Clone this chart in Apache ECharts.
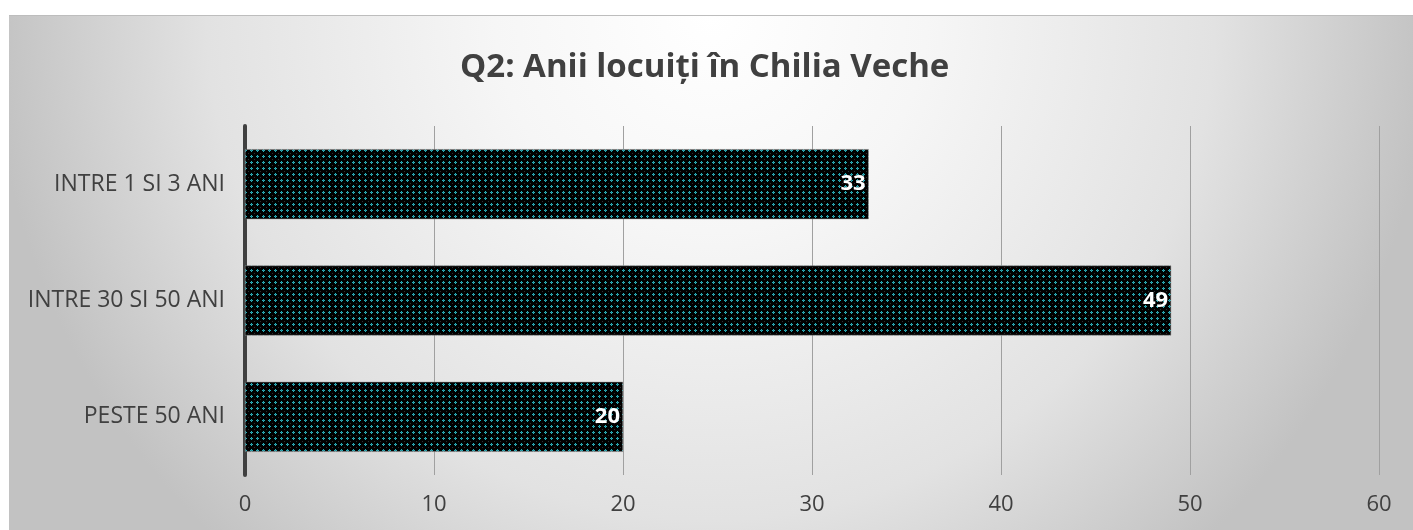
<!DOCTYPE html>
<html>
<head>
<meta charset="utf-8">
<script src="https://cdn.jsdelivr.net/npm/echarts@6/dist/echarts.min.js"></script>
<style>
  html, body { margin: 0; padding: 0; background: #fff; }
  #chart {
    position: absolute;
    left: 9px;
    top: 15px;
    width: 1404px;
    height: 515px;
    border-top: 1px solid #bdbdbd;
    box-sizing: border-box;
    background: radial-gradient(ellipse 720px 720px at 50% 0%, #ffffff 0%, #f6f6f6 30%, #e2e2e2 70%, #c2c2c2 100%);
  }
</style>
</head>
<body>
<div id="chart"></div>
<script>
const categories = ['INTRE 1 SI 3 ANI', 'INTRE 30 SI 50 ANI', 'PESTE 50 ANI']
const values = [33, 49, 20]
const xTicks = [0, 10, 20, 30, 40, 50, 60]

const textColor = '#404040'
const fontFamily = '"Open Sans", "DejaVu Sans", sans-serif'

// black fill with small cyan dots, like the original pattern fill
function makePattern () {
  const c = document.createElement('canvas')
  c.width = 6
  c.height = 6
  const ctx = c.getContext('2d')
  ctx.fillStyle = '#000'
  ctx.fillRect(0, 0, 6, 6)
  ctx.fillStyle = '#1fb3bf'
  ;[[2, 1], [1, 2], [3, 2], [2, 3]].forEach(([x, y]) => ctx.fillRect(x, y, 1, 1))
  ctx.fillStyle = '#3d7f88'
  ctx.fillRect(2, 2, 1, 1)
  ctx.fillStyle = '#2e2e2e'
  ctx.fillRect(5, 5, 1, 1)
  return c
}

const chart = echarts.init(document.getElementById('chart'))

chart.setOption({
  animation: false,
  title: {
    text: 'Q2: Anii locuiți în Chilia Veche',
    left: 446,
    top: 30,
    textStyle: {
      fontFamily,
      fontSize: 33,
      fontWeight: 'bold',
      color: textColor
    }
  },
  grid: {
    left: 236,
    right: 34,
    top: 110,
    bottom: 55,
    containLabel: false
  },
  xAxis: {
    type: 'value',
    min: xTicks[0],
    max: xTicks[xTicks.length - 1],
    interval: 10,
    axisLine: { show: false },
    axisTick: { show: false },
    axisLabel: {
      margin: 19,
      color: textColor,
      fontSize: 22,
      fontFamily
    },
    splitLine: {
      show: true,
      lineStyle: { color: '#a0a0a0', width: 1 }
    }
  },
  yAxis: {
    type: 'category',
    inverse: true,
    data: categories,
    axisLine: {
      show: true,
      lineStyle: { color: '#404040', width: 4 }
    },
    axisTick: { show: false },
    axisLabel: {
      margin: 20,
      color: textColor,
      fontSize: 23,
      fontFamily
    }
  },
  series: [
    {
      type: 'bar',
      data: values,
      barWidth: 70,
      itemStyle: {
        color: { image: makePattern(), repeat: 'repeat' },
        borderColor: '#8a8a8a',
        borderWidth: 0.5
      },
      label: {
        show: true,
        position: 'insideRight',
        distance: 3,
        color: '#ffffff',
        fontSize: 22,
        fontWeight: 'bold',
        fontFamily
      }
    }
  ]
})
</script>
</body>
</html>
